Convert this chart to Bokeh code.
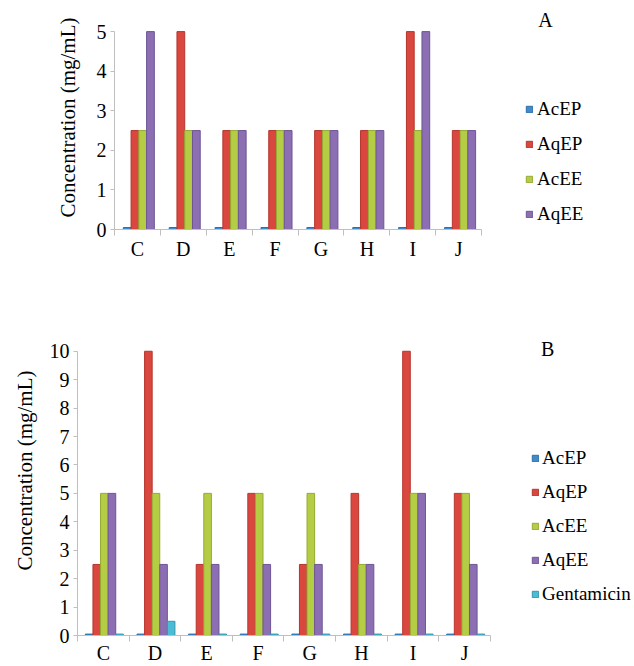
import numpy as np
from bokeh.plotting import figure
from bokeh.models import Range1d, FixedTicker, Legend, LegendItem, Label
from bokeh.embed import file_html
from bokeh.resources import INLINE

# ---------------- data ----------------
categories = ["C", "D", "E", "F", "G", "H", "I", "J"]

# Panel A
a_series_names = ["AcEP", "AqEP", "AcEE", "AqEE"]
a_acep = [0.05, 0.05, 0.05, 0.05, 0.05, 0.05, 0.05, 0.05]
a_aqep = [2.5, 5, 2.5, 2.5, 2.5, 2.5, 5, 2.5]
a_acee = [2.5, 2.5, 2.5, 2.5, 2.5, 2.5, 2.5, 2.5]
a_aqee = [5, 2.5, 2.5, 2.5, 2.5, 2.5, 5, 2.5]
a_yticks = [0, 1, 2, 3, 4, 5]

# Panel B
b_series_names = ["AcEP", "AqEP", "AcEE", "AqEE", "Gentamicin"]
b_acep = [0.05, 0.05, 0.05, 0.05, 0.05, 0.05, 0.05, 0.05]
b_aqep = [2.5, 10, 2.5, 5, 2.5, 5, 10, 5]
b_acee = [5, 5, 5, 5, 5, 2.5, 5, 5]
b_aqee = [5, 2.5, 2.5, 2.5, 2.5, 2.5, 5, 2.5]
b_gent = [0.05, 0.5, 0.05, 0.05, 0.05, 0.05, 0.05, 0.05]
b_yticks = [0, 1, 2, 3, 4, 5, 6, 7, 8, 9, 10]

COLORS = ["#3F8BCB", "#D9473F", "#B5CC45", "#8C6FB3", "#4BBCD6"]
EDGE = ["#2E6FA8", "#B5352E", "#94AA32", "#6E5596", "#3497AE"]

FONT = "Liberation Serif"
AXIS_GRAY = "#BFBFBF"


def make_chart(series, names, yticks, x_end, y_end, height, left, top, bottom,
               bar_w, center, lx, ly, spacing, leg_standoff, title, tx, ty,
               label_standoff, x_standoff):
    n = len(categories)
    p = figure(width=634, height=height, output_backend="svg", toolbar_location=None,
               x_range=Range1d(0, x_end), y_range=Range1d(0, y_end),
               min_border_left=left, min_border_right=0,
               min_border_top=top, min_border_bottom=bottom)
    p.outline_line_color = None
    p.grid.grid_line_color = None
    p.background_fill_color = "white"
    p.border_fill_color = "white"

    idx = np.arange(n)
    k = len(series)
    items = []
    for j, (vals, name) in enumerate(zip(series, names)):
        xs = idx + center + (j - (k - 1) / 2) * bar_w
        r = p.vbar(x=xs, top=vals, bottom=0, width=bar_w,
                   fill_color=COLORS[j], line_color=EDGE[j], line_width=1)
        items.append(LegendItem(label=name, renderers=[r]))

    # x axis: labels at centres, tick marks at category boundaries
    xa = p.xaxis[0]
    xa.bounds = (0, n)
    xa.ticker = FixedTicker(ticks=list(idx + 0.5), minor_ticks=list(range(n + 1)))
    xa.major_label_overrides = {float(i + 0.5): c for i, c in enumerate(categories)}
    xa.major_tick_out = 0
    xa.major_tick_in = 0
    xa.minor_tick_out = 6
    xa.minor_tick_in = 0
    xa.minor_tick_line_color = AXIS_GRAY
    xa.axis_line_color = AXIS_GRAY
    xa.major_label_text_font = FONT
    xa.major_label_text_font_size = "20px"
    xa.major_label_text_color = "black"
    xa.major_label_standoff = x_standoff

    ya = p.yaxis[0]
    ya.bounds = (0, yticks[-1])
    ya.ticker = FixedTicker(ticks=yticks, minor_ticks=[])
    ya.major_tick_out = 4
    ya.major_tick_in = 0
    ya.major_tick_line_color = AXIS_GRAY
    ya.axis_line_color = AXIS_GRAY
    ya.major_label_text_font = FONT
    ya.major_label_text_font_size = "20px"
    ya.major_label_text_color = "black"
    ya.major_label_standoff = 4
    ya.axis_label = "Concentration (mg/mL)"
    ya.axis_label_text_font = FONT
    ya.axis_label_text_font_size = "21px"
    ya.axis_label_text_font_style = "normal"
    ya.axis_label_text_color = "black"
    ya.axis_label_standoff = label_standoff

    legend = Legend(items=items, location=(lx, ly), spacing=spacing,
                    glyph_width=8, glyph_height=8, label_height=20,
                    label_standoff=leg_standoff, padding=0, margin=0,
                    border_line_color=None, background_fill_alpha=0,
                    label_text_font=FONT, label_text_font_size="19px",
                    label_text_color="black")
    p.add_layout(legend, "center")

    p.add_layout(Label(x=tx, y=ty, text=title,
                       text_font=FONT, text_font_size="20px", text_align="center",
                       text_baseline="middle", text_color="black"))
    return p


# Panel A: frame x 114..634 (45.9 px per category), y 0 at 229, 39.6 px per unit
pA = make_chart([a_acep, a_aqep, a_acee, a_aqee], a_series_names, a_yticks,
                11.33, 5.66, 300, 114, 5, 71, 0.169, 0.53,
                411, 4, 13, 4, "A", 9.39, 5.3, 14, 2)

# Panel B: frame x 77..634 (51.6 px per category), y 0 at 636, 28.5 px per unit
pB = make_chart([b_acep, b_aqep, b_acee, b_aqee, b_gent], b_series_names, b_yticks,
                10.79, 11.61, 366, 77, 5, 30, 0.147, 0.52,
                454, 30, 12, 3, "B", 9.11, 10.07, 10, 0)

open("out.html", "w").write(file_html([pA, pB], INLINE))
